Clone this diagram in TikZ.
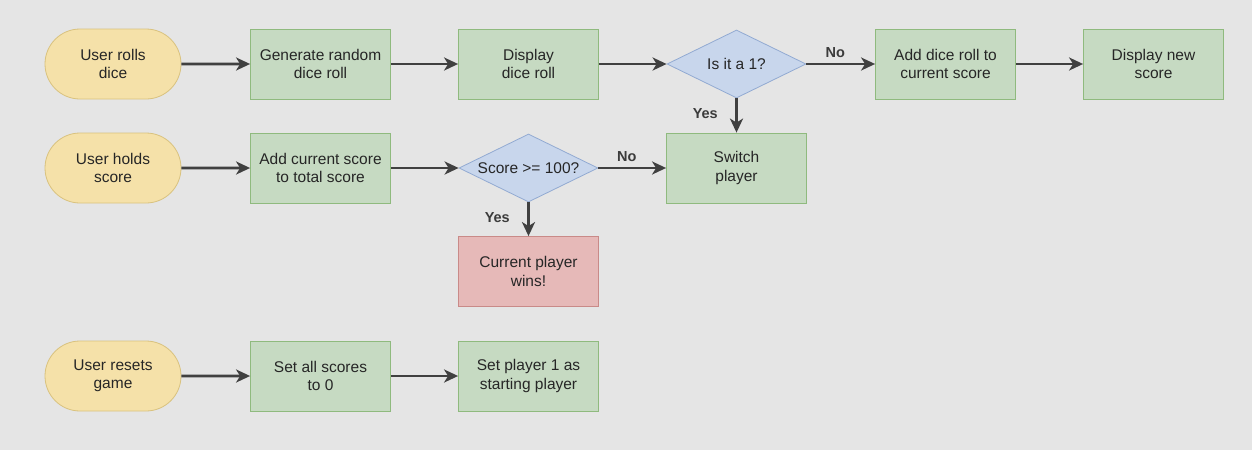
\documentclass[tikz,border=0pt]{standalone}
\usepackage{fontspec}
\setmainfont{Liberation Sans}
\usetikzlibrary{shapes.geometric,shapes.misc,arrows.meta}
\definecolor{bgc}{HTML}{E5E5E5}
\definecolor{yfill}{HTML}{F5E1A9}
\definecolor{ydraw}{HTML}{D9C27E}
\definecolor{gfill}{HTML}{C6DAC2}
\definecolor{gdraw}{HTML}{8FBA7E}
\definecolor{bfill}{HTML}{C8D6EC}
\definecolor{bdraw}{HTML}{92AAD2}
\definecolor{rfill}{HTML}{E6B9B8}
\definecolor{rdraw}{HTML}{C98A88}
\definecolor{txt}{HTML}{262626}
\definecolor{arr}{HTML}{404040}
\tikzset{
  x=1pt,y=-1pt,
  base/.style={minimum width=140pt,minimum height=70pt,inner sep=2pt,align=center,
    font=\fontsize{15.5}{18.5}\selectfont,text=txt,line width=0.8pt},
  term/.style={base,rounded rectangle,fill=yfill,draw=ydraw},
  proc/.style={base,rectangle,fill=gfill,draw=gdraw},
  win/.style={base,rectangle,fill=rfill,draw=rdraw},
  dec/.style={base,diamond,aspect=2.05,fill=bfill,draw=bdraw,inner sep=0pt},
  flow/.style={draw=arr,line width=2.8pt,-{Stealth[length=14pt,width=13pt,inset=4pt]}},
  lbl/.style={font=\fontsize{14.5}{17}\selectfont\bfseries,text=txt!90!white}
}
\begin{document}
\begin{tikzpicture}
\fill[bgc] (0,0) rectangle (1252,450);
\useasboundingbox (0,0) rectangle (1252,450);
% row 1
\node[term] (r1) at (113,64) {User rolls\\dice};
\node[proc] (gen) at (320.5,64) {Generate random\\dice roll};
\node[proc] (disp) at (528.5,64) {Display\\dice roll};
\node[dec,minimum width=139pt,minimum height=68pt] (is1) at (736.5,64) {Is it a 1?};
\node[proc] (add) at (945.5,64) {Add dice roll to\\current score};
\node[proc] (dnew) at (1153.5,64) {Display new\\score};
% row 2
\node[term] (r2) at (113,168) {User holds\\score};
\node[proc] (tot) at (320.5,168) {Add current score\\to total score};
\node[dec,minimum width=139pt,minimum height=68pt] (s100) at (528.5,168) {Score >= 100?};
\node[proc] (sw) at (736.5,168) {Switch\\player};
\node[win] (cw) at (528.5,271.5) {Current player\\wins!};
% row 3
\node[term] (r3) at (113,376) {User resets\\game};
\node[proc] (set0) at (320.5,376) {Set all scores\\to 0};
\node[proc] (sp1) at (528.5,376) {Set player 1 as\\starting player};
% connectors
\draw[flow] (r1) -- (gen);
\draw[flow] (gen) -- (disp);
\draw[flow] (disp) -- (is1);
\draw[flow] (is1) -- node[lbl,above=2pt,pos=0.42] {No} (add);
\draw[flow] (add) -- (dnew);
\draw[flow] (is1) -- node[lbl,left=14pt,pos=0.45] {Yes} (sw);
\draw[flow] (r2) -- (tot);
\draw[flow] (tot) -- (s100);
\draw[flow] (s100) -- node[lbl,above=2pt,pos=0.42] {No} (sw);
\draw[flow] (s100) -- node[lbl,left=14pt,pos=0.45] {Yes} (cw);
\draw[flow] (r3) -- (set0);
\draw[flow] (set0) -- (sp1);
\end{tikzpicture}
\end{document}
